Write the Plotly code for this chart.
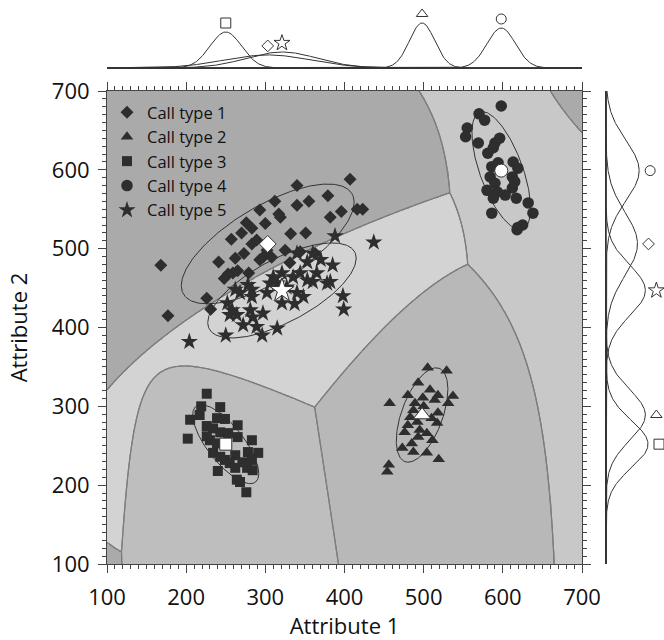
import numpy as np
import plotly.graph_objects as go

names = ["Call type 1", "Call type 2", "Call type 3", "Call type 4", "Call type 5"]
symbols = ["diamond", "triangle-up", "square", "circle", "star"]
open_symbols = ["diamond-open", "triangle-up-open", "square-open", "circle-open", "star-open"]

# --- observations (Attribute 1, Attribute 2) ---
t1_x = [340, 407, 379, 355, 340, 317, 319, 293, 276, 283, 257, 283, 289, 332, 351, 382, 396, 416, 423,
        262, 273, 241, 253, 259, 265, 279, 293, 297, 308, 325, 344, 363, 168, 226, 231, 177, 331, 302,
        300, 270, 248, 312]
t1_y = [580, 588, 567, 560, 555, 544, 540, 549, 533, 526, 512, 506, 511, 519, 520, 540, 547, 550, 550,
        488, 494, 483, 468, 469, 472, 469, 486, 489, 489, 498, 496, 494, 479, 437, 423, 415, 482, 498,
        532, 520, 462, 560]
t2_x = [505, 529, 493, 457, 480, 508, 518, 537, 499, 514, 531, 489, 518, 483, 517, 480, 476, 495, 504,
        511, 485, 473, 487, 504, 519, 456, 454, 493, 487, 500, 510, 492]
t2_y = [349, 345, 330, 304, 314, 321, 314, 313, 311, 308, 304, 304, 292, 286, 279, 276, 267, 270, 266,
        257, 253, 247, 242, 241, 233, 226, 217, 261, 295, 300, 285, 280]
t3_x = [226, 219, 217, 205, 243, 239, 249, 226, 234, 243, 265, 202, 230, 239, 265, 283, 234, 243, 249,
        262, 278, 291, 255, 271, 283, 262, 277, 284, 240, 264, 268, 276, 226, 253]
t3_y = [316, 300, 289, 283, 299, 285, 284, 275, 272, 267, 276, 259, 257, 253, 261, 257, 241, 236, 232,
        238, 242, 241, 228, 229, 232, 222, 222, 219, 218, 207, 204, 191, 262, 266]
t4_x = [598, 570, 577, 555, 553, 569, 596, 590, 588, 581, 613, 586, 594, 619, 584, 612, 615, 590, 580,
        593, 603, 612, 617, 588, 632, 586, 638, 625, 619, 618]
t4_y = [681, 671, 663, 653, 642, 634, 640, 634, 628, 621, 610, 604, 609, 602, 591, 591, 585, 583, 574,
        572, 568, 577, 564, 564, 558, 545, 545, 530, 527, 524]
t5_x = [388, 437, 385, 370, 353, 360, 340, 344, 335, 365, 382, 378, 360, 321, 315, 306, 340, 348, 337,
        321, 302, 283, 283, 268, 262, 252, 258, 264, 281, 284, 297, 272, 289, 296, 315, 250, 204, 398,
        399, 327, 353, 310, 278, 255]
t5_y = [516, 508, 479, 486, 483, 494, 494, 469, 464, 469, 458, 456, 458, 469, 456, 456, 444, 439, 430,
        431, 444, 448, 439, 444, 448, 431, 422, 416, 422, 413, 418, 403, 401, 390, 399, 390, 382, 440,
        423, 451, 460, 464, 454, 416]

xs = [t1_x, t2_x, t3_x, t4_x, t5_x]
ys = [t1_y, t2_y, t3_y, t4_y, t5_y]

# class means (white markers)
mean_x = [303, 498, 250, 598, 321]
mean_y = [506, 289, 252, 599, 447]
# ellipse semi-axes and orientation (degrees)
ell_a = [124, 63, 61, 79, 104]
ell_b = [48, 26, 23, 27, 40]
ell_ang = [31, 70, -52, -70, 28]
# marginal distributions (std devs)
top_sd = [55, 16, 20, 18, 45]
right_sd = [40, 32, 30, 38, 32]

region_colors = ["#aaaaaa", "#b8b8b8", "#bebebe", "#c8c8c8", "#d3d3d3"]
dark = "#2e2e2e"
FONT = "Open Sans"

fig = go.Figure()

# --- decision regions (quadratic discriminant from the observations) ---
g = np.linspace(100, 700, 301)
GX, GY = np.meshgrid(g, g)
scores = []
for k in range(5):
    S = np.cov(np.vstack([xs[k], ys[k]]))
    Si = np.linalg.inv(S)
    dx = GX - mean_x[k]
    dy = GY - mean_y[k]
    m = Si[0, 0] * dx * dx + 2 * Si[0, 1] * dx * dy + Si[1, 1] * dy * dy
    scores.append(-0.5 * np.log(np.linalg.det(S)) - 0.5 * m)
scores = np.array(scores)
label = np.argmax(scores, axis=0)

cs = []
for k, c in enumerate(region_colors):
    cs.append([k / 5, c])
    cs.append([(k + 1) / 5, c])
fig.add_trace(go.Heatmap(x=g, y=g, z=label, zmin=-0.5, zmax=4.5, colorscale=cs,
                         showscale=False, hoverinfo="skip", xaxis="x", yaxis="y"))
for k in range(5):
    others = np.max(np.delete(scores, k, axis=0), axis=0)
    f = scores[k] - others
    fig.add_trace(go.Contour(x=g, y=g, z=f, contours=dict(start=0, end=0, size=1, coloring="none"),
                             line=dict(color="#7d7d7d", width=1.2), showscale=False,
                             hoverinfo="skip", showlegend=False, xaxis="x", yaxis="y"))

# --- ellipses ---
th = np.linspace(0, 2 * np.pi, 200)
for k in range(5):
    a, b, ang = ell_a[k], ell_b[k], np.deg2rad(ell_ang[k])
    ex = mean_x[k] + a * np.cos(th) * np.cos(ang) - b * np.sin(th) * np.sin(ang)
    ey = mean_y[k] + a * np.cos(th) * np.sin(ang) + b * np.sin(th) * np.cos(ang)
    fig.add_trace(go.Scatter(x=ex, y=ey, mode="lines", line=dict(color="#333", width=1),
                             showlegend=False, hoverinfo="skip", xaxis="x", yaxis="y"))

# --- observations ---
sizes = [10, 11, 10, 11.5, 13]
for k in range(5):
    fig.add_trace(go.Scatter(x=xs[k], y=ys[k], mode="markers", name=names[k],
                             marker=dict(symbol=symbols[k], size=sizes[k], color=dark,
                                         line=dict(width=0)),
                             xaxis="x", yaxis="y"))

# --- class means ---
msizes = [13, 15, 12, 13, 18]
for k in range(5):
    fig.add_trace(go.Scatter(x=[mean_x[k]], y=[mean_y[k]], mode="markers", showlegend=False,
                             marker=dict(symbol=symbols[k], size=msizes[k], color="white",
                                         line=dict(width=1, color="#333")),
                             xaxis="x", yaxis="y"))

# --- top marginal ---
C_top = 1805.0
xv = np.linspace(100, 700, 601)
osz = [9, 10, 10, 10, 12]
for k in range(5):
    pdf = np.exp(-0.5 * ((xv - mean_x[k]) / top_sd[k]) ** 2) / (top_sd[k] * np.sqrt(2 * np.pi))
    fig.add_trace(go.Scatter(x=xv, y=C_top * pdf, mode="lines", line=dict(color="#333", width=1),
                             showlegend=False, hoverinfo="skip", xaxis="x2", yaxis="y2"))
    peak = C_top / (top_sd[k] * np.sqrt(2 * np.pi))
    fig.add_trace(go.Scatter(x=[mean_x[k]], y=[peak + 9], mode="markers", showlegend=False,
                             marker=dict(symbol=open_symbols[k], size=osz[k], color="#333",
                                         line=dict(width=1, color="#333")),
                             xaxis="x2", yaxis="y2", cliponaxis=False))

# --- right marginal ---
C_right = 3158.0
yv = np.linspace(100, 700, 601)
for k in range(5):
    pdf = np.exp(-0.5 * ((yv - mean_y[k]) / right_sd[k]) ** 2) / (right_sd[k] * np.sqrt(2 * np.pi))
    fig.add_trace(go.Scatter(x=C_right * pdf, y=yv, mode="lines", line=dict(color="#333", width=1),
                             showlegend=False, hoverinfo="skip", xaxis="x3", yaxis="y3"))
    peak = C_right / (right_sd[k] * np.sqrt(2 * np.pi))
    fig.add_trace(go.Scatter(x=[peak + 11], y=[mean_y[k]], mode="markers", showlegend=False,
                             marker=dict(symbol=open_symbols[k], size=osz[k], color="#333",
                                         line=dict(width=1, color="#333")),
                             xaxis="x3", yaxis="y3", cliponaxis=False))

axis_common = dict(showgrid=False, zeroline=False, showline=True, linecolor="#444", linewidth=1,
                   mirror="allticks", ticks="outside", ticklen=8, tickcolor="#444",
                   tickfont=dict(family=FONT, size=22, color="#111"), range=[100, 700],
                   tickvals=[100, 200, 300, 400, 500, 600, 700],
                   minor=dict(dtick=10, ticks="outside", ticklen=4, tickcolor="#444"),
                   automargin=False)

fig.update_layout(
    width=664, height=640,
    margin=dict(l=0, r=0, t=0, b=0),
    paper_bgcolor="white", plot_bgcolor="white",
    font=dict(family=FONT, color="#111"),
    xaxis=dict(domain=[107 / 664, 582 / 664], anchor="y",
               title=dict(text="Attribute 1", font=dict(family=FONT, size=22, color="#111"), standoff=10),
               ticklabelstandoff=6, **axis_common),
    yaxis=dict(domain=[1 - 564 / 640, 1 - 91 / 640], anchor="x",
               title=dict(text="Attribute 2", font=dict(family=FONT, size=22, color="#111"), standoff=18),
               ticklabelstandoff=4, **axis_common),
    xaxis2=dict(domain=[107 / 664, 582 / 664], anchor="y2", range=[100, 700], showgrid=False,
                zeroline=False, showline=True, linecolor="#333", linewidth=1, showticklabels=False,
                ticks=""),
    yaxis2=dict(domain=[1 - 68 / 640, 1 - 10 / 640], anchor="x2", range=[0, 58], visible=False),
    xaxis3=dict(domain=[606 / 664, 1.0], anchor="y3", range=[0, 58], visible=False),
    yaxis3=dict(domain=[1 - 564 / 640, 1 - 91 / 640], anchor="x3", range=[100, 700], showgrid=False,
                zeroline=False, showline=True, linecolor="#333", linewidth=1, showticklabels=False,
                ticks=""),
    legend=dict(x=107 / 664, y=1 - 95 / 640, xanchor="left", yanchor="top",
                bgcolor="rgba(0,0,0,0)", font=dict(family=FONT, size=16.5, color="#111"),
                itemsizing="trace"),
    showlegend=True,
)

fig.write_html("out.html")
